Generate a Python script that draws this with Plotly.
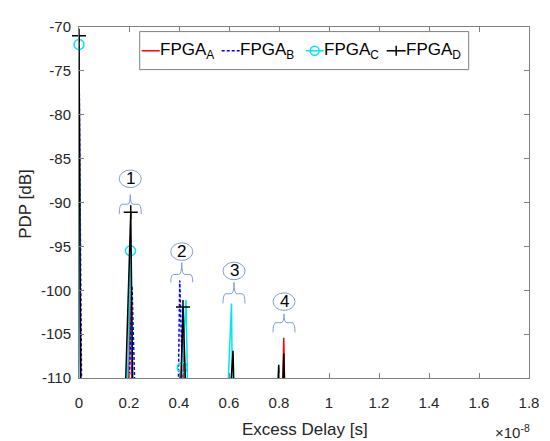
import plotly.graph_objects as go

# ---------------- data (delay in units of 1e-8 s, PDP in dB) ----------------
A_delay = [0.0, 0.008, 0.195, 0.205, 0.214, 0.405, 0.415, 0.424, 0.813, 0.819, 0.825]
A_pdp = [-72.0, -115, -115, -100.0, -115, -115, -104.0, -115, -115, -105.4, -115]

B_delay = [0.0, 0.011, 0.198, 0.212, 0.226, 0.396, 0.403, 0.418]
B_pdp = [-73.0, -114, -114, -99.5, -114, -114, -98.9, -114]

C_delay = [0.0, 0.006, 0.19, 0.206, 0.218, 0.40, 0.413, 0.428, 0.437, 0.59, 0.61, 0.615]
C_pdp = [-72.0, -115, -115, -95.5, -115, -115, -108.8, -101.1, -115, -115, -101.5, -115]
C_marker_idx = [0, 3, 6]

D_delay = [0.0, 0.008, 0.185, 0.207, 0.215, 0.404, 0.416, 0.43, 0.60, 0.616, 0.622,
           0.79, 0.799, 0.805, 0.812, 0.819, 0.825]
D_pdp = [-71.0, -120, -112, -91.1, -112, -114, -101.9, -114, -114, -106.9, -114,
         -114, -108.5, -114, -114, -107.2, -114]
D_marker_idx = [0, 3, 6]

series_names = ["FPGA<sub>A</sub>", "FPGA<sub>B</sub>", "FPGA<sub>C</sub>", "FPGA<sub>D</sub>"]

x_ticks = [0, 0.2, 0.4, 0.6, 0.8, 1.0, 1.2, 1.4, 1.6, 1.8]
x_tick_labels = ["0", "0.2", "0.4", "0.6", "0.8", "1", "1.2", "1.4", "1.6", "1.8"]
y_ticks = [-110, -105, -100, -95, -90, -85, -80, -75, -70]
y_tick_labels = ["-110", "-105", "-100", "-95", "-90", "-85", "-80", "-75", "-70"]

# callout labels: (label, centre delay, circle centre dB, stem top dB, brace line dB, legs bottom dB)
callouts = [
    ("1", 0.205, -87.3, -89.1, -90.2, -91.3),
    ("2", 0.411, -95.6, -96.85, -98.2, -99.1),
    ("3", 0.620, -97.8, -99.1, -100.4, -101.5),
    ("4", 0.820, -101.3, -102.7, -103.7, -104.8),
]

FONT = "Liberation Sans, Arial, sans-serif"
RED, BLUE, CYAN, BLACK = "#ff0000", "#0000ff", "#00e5ee", "#000000"
CALL = "#7f9fd8"
AX = "#808080"

# page body has an 8 px margin -> shrink the figure so the plot lands where the reference has it
OFF = 8
W, H = 550 - OFF, 441 - OFF
PL, PT, PW, PH = 79.3, 18.3, 450.0, 360.0   # plot area in screen pixels


def px(sx):
    return (sx - PL) / PW


def py(sy):
    return 1 - (sy - PT) / PH


fig = go.Figure()

fig.add_trace(go.Scatter(x=A_delay, y=A_pdp, mode="lines",
                         line=dict(color=RED, width=1.5), showlegend=False))
fig.add_trace(go.Scatter(x=B_delay, y=B_pdp, mode="lines",
                         line=dict(color=BLUE, width=1.5, dash="3px,2px"), showlegend=False))
fig.add_trace(go.Scatter(x=C_delay, y=C_pdp, mode="lines",
                         line=dict(color=CYAN, width=1.5), showlegend=False))
fig.add_trace(go.Scatter(x=[C_delay[i] for i in C_marker_idx], y=[C_pdp[i] for i in C_marker_idx],
                         mode="markers", cliponaxis=False,
                         marker=dict(symbol="circle-open", size=10, color=CYAN, line=dict(width=1.5)),
                         showlegend=False))
fig.add_trace(go.Scatter(x=D_delay, y=D_pdp, mode="lines",
                         line=dict(color=BLACK, width=1.5), showlegend=False))
fig.add_trace(go.Scatter(x=[D_delay[i] for i in D_marker_idx], y=[D_pdp[i] for i in D_marker_idx],
                         mode="markers", cliponaxis=False,
                         marker=dict(symbol="cross-thin", size=10, color=BLACK,
                                     line=dict(width=1.5, color=BLACK)),
                         showlegend=False))

shapes = []
annotations = []

# callouts (circled numbers with braces)
half_w = 0.044
rx, ry = 0.044, 1.0
for lab, cx, cy, ytop, ymid, ybot in callouts:
    shapes.append(dict(type="circle", xref="x", yref="y", x0=cx - rx, x1=cx + rx, y0=cy - ry, y1=cy + ry,
                       line=dict(color=CALL, width=1), fillcolor="white", layer="above"))
    e = 0.012
    path = (f"M {cx - half_w},{ybot} Q {cx - half_w},{ymid} {cx - half_w + e},{ymid} "
            f"L {cx - e},{ymid} Q {cx},{ymid} {cx},{ytop} "
            f"Q {cx},{ymid} {cx + e},{ymid} L {cx + half_w - e},{ymid} "
            f"Q {cx + half_w},{ymid} {cx + half_w},{ybot}")
    shapes.append(dict(type="path", xref="x", yref="y", path=path,
                       line=dict(color=CALL, width=1), layer="above"))
    annotations.append(dict(x=cx, y=cy, xref="x", yref="y", text=lab, showarrow=False,
                            font=dict(family=FONT, size=17, color="black"),
                            xanchor="center", yanchor="middle"))

# hand-built legend (box, line samples, markers, labels) in screen pixels
shapes.append(dict(type="rect", xref="paper", yref="paper", x0=px(140), x1=px(469), y0=py(62), y1=py(23),
                   line=dict(color=AX, width=1), fillcolor="white", layer="above"))
leg_y = 42.7
legend_items = [
    # color, dash, marker, line x0, line x1, text x
    (RED, "solid", None, 142, 160, 159),
    (BLUE, "dash", None, 222, 240, 239),
    (CYAN, "solid", "circle", 306, 324, 323),
    (BLACK, "solid", "plus", 387, 406, 405),
]
for name, (col, dash, mk, lx0, lx1, tx) in zip(series_names, legend_items):
    shapes.append(dict(type="line", xref="paper", yref="paper", x0=px(lx0), x1=px(lx1),
                       y0=py(leg_y), y1=py(leg_y),
                       line=dict(color=col, width=1.5, dash="3px,2px" if dash == "dash" else "solid"),
                       layer="above"))
    mx = (lx0 + lx1) / 2
    if mk == "circle":
        shapes.append(dict(type="circle", xref="paper", yref="paper", xsizemode="pixel", ysizemode="pixel",
                           xanchor=px(mx), yanchor=py(leg_y), x0=-4.5, x1=4.5, y0=-4.5, y1=4.5,
                           line=dict(color=col, width=1.5), layer="above"))
    elif mk == "plus":
        shapes.append(dict(type="line", xref="paper", yref="paper", xsizemode="pixel", ysizemode="pixel",
                           xanchor=px(mx), yanchor=py(leg_y), x0=0, x1=0, y0=-5, y1=5,
                           line=dict(color=col, width=1.5), layer="above"))
    annotations.append(dict(x=px(tx), y=py(42.5), xref="paper", yref="paper", text=name,
                            showarrow=False, font=dict(family=FONT, size=17, color="black"),
                            xanchor="left", yanchor="middle", borderpad=0))

annotations.append(dict(x=px(305), y=py(431), xref="paper", yref="paper", text="Excess Delay [s]",
                        showarrow=False, font=dict(family=FONT, size=17, color="#262626"),
                        xanchor="center", yanchor="middle"))
annotations.append(dict(x=px(25), y=py(200), xref="paper", yref="paper", text="PDP [dB]",
                        showarrow=False, textangle=-90, font=dict(family=FONT, size=17, color="#262626"),
                        xanchor="center", yanchor="middle"))
annotations.append(dict(x=px(532), y=py(433), xref="paper", yref="paper", text="×10<sup>-8</sup>",
                        showarrow=False, font=dict(family=FONT, size=15, color="#262626"),
                        xanchor="right", yanchor="middle"))

axis_common = dict(showgrid=False, zeroline=False, showline=True, linecolor=AX, linewidth=1,
                   mirror="ticks", ticks="inside", ticklen=5, tickcolor=AX, tickwidth=1,
                   tickfont=dict(family=FONT, size=15, color="#262626"))

fig.update_layout(
    width=W, height=H,
    margin=dict(l=PL - OFF, r=W - (PL - OFF) - PW, t=PT - OFF, b=H - (PT - OFF) - PH, pad=0),
    paper_bgcolor="white", plot_bgcolor="white",
    xaxis=dict(range=[0, 1.8], tickmode="array", tickvals=x_ticks, ticktext=x_tick_labels,
               ticklabelstandoff=11, **axis_common),
    yaxis=dict(range=[-110, -70], tickmode="array", tickvals=y_ticks, ticktext=y_tick_labels,
               ticklabelstandoff=4, **axis_common),
    shapes=shapes, annotations=annotations,
    showlegend=False,
)

fig.write_html("out.html")
